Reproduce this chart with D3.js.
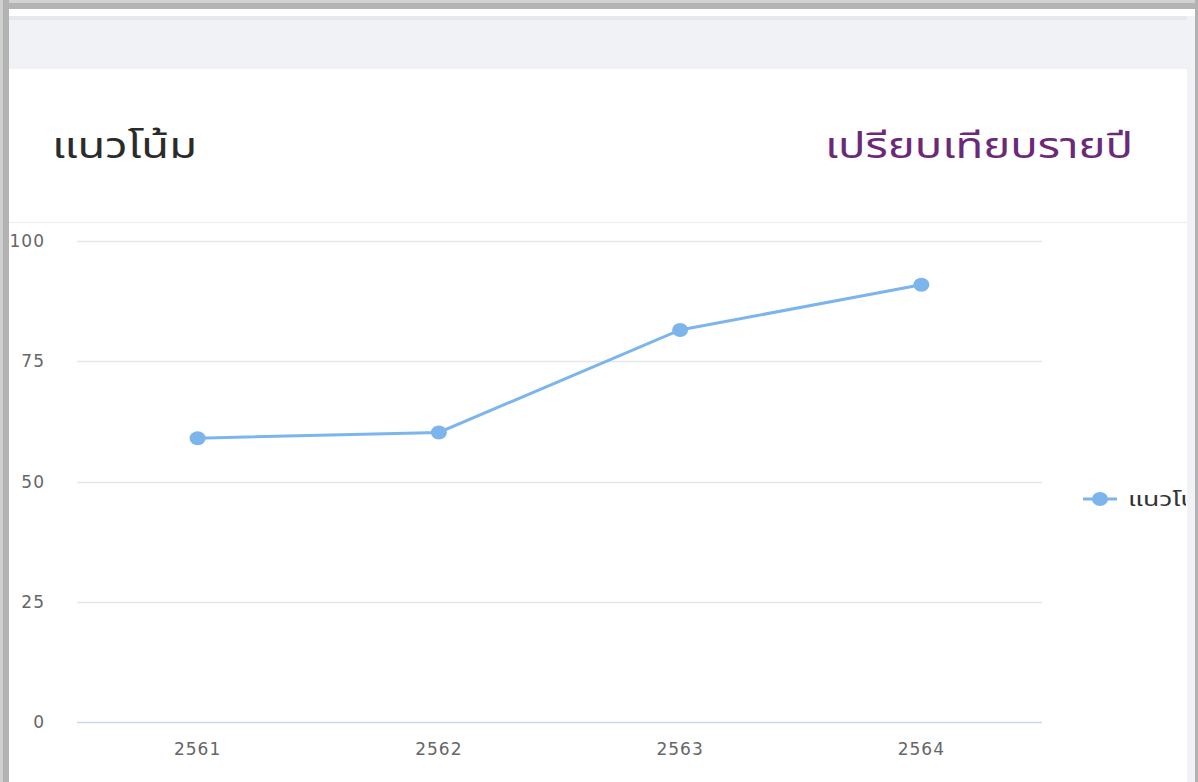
<!DOCTYPE html>
<html>
<head>
<meta charset="utf-8">
<title>แนวโน้ม</title>
<script src="https://d3js.org/d3.v7.min.js"></script>
<style>
  body { margin: 0; background: #fff; }
  svg text { font-family: "Noto Sans", "Noto Sans Thai", Roboto, sans-serif; }
  svg text.num { font-family: "DejaVu Sans", sans-serif; }
</style>
</head>
<body>
<div id="chart"></div>
<script>
  // data
  const years = ["2561", "2562", "2563", "2564"];
  const trendValues = [59, 60.2, 81.5, 90.9];
  const yTicks = [0, 25, 50, 75, 100];
  const seriesName = "แนวโน้ม";
  const leftTitle = "แนวโน้ม";
  const rightTitle = "เปรียบเทียบรายปี";

  const W = 1198, H = 782;
  const svg = d3.select("#chart").append("svg")
    .attr("width", W)
    .attr("height", H);

  // screenshot frame
  svg.append("rect").attr("x", 0).attr("y", 0).attr("width", W).attr("height", H).attr("fill", "#fff");
  svg.append("rect").attr("x", 0).attr("y", 16).attr("width", W).attr("height", 53).attr("fill", "#f0f2f5");
  svg.append("rect").attr("x", 0).attr("y", 16).attr("width", W).attr("height", 4).attr("fill", "#e6e8eb");
  svg.append("rect").attr("x", 1187).attr("y", 16).attr("width", 11).attr("height", H).attr("fill", "#f0f2f5");
  svg.append("rect").attr("x", 0).attr("y", 0).attr("width", W).attr("height", 3).attr("fill", "#d2d2d2");
  svg.append("rect").attr("x", 0).attr("y", 3).attr("width", W).attr("height", 6).attr("fill", "#b4b4b4");
  svg.append("rect").attr("x", 0).attr("y", 0).attr("width", 3).attr("height", H).attr("fill", "#cfcfcf");
  svg.append("rect").attr("x", 3).attr("y", 0).attr("width", 6).attr("height", H).attr("fill", "#b2b2b2");
  svg.append("rect").attr("x", 1195).attr("y", 0).attr("width", 3).attr("height", H).attr("fill", "#b2b2b2");

  // titles
  svg.append("text")
    .attr("x", 52).attr("y", 158)
    .attr("font-size", 36)
    .attr("textLength", 145)
    .attr("lengthAdjust", "spacingAndGlyphs")
    .attr("fill", "#2b2b2b")
    .text(leftTitle);
  svg.append("text")
    .attr("x", 825).attr("y", 158)
    .attr("font-size", 36)
    .attr("textLength", 308)
    .attr("lengthAdjust", "spacingAndGlyphs")
    .attr("fill", "#6a2a78")
    .text(rightTitle);

  svg.append("line")
    .attr("x1", 9).attr("x2", 1187)
    .attr("y1", 222.5).attr("y2", 222.5)
    .attr("stroke", "#ececec");

  // chart area
  const plotLeft = 77, plotRight = 1042, plotTop = 241, plotBottom = 722;
  const x = d3.scaleBand().domain(years).range([plotLeft, plotRight]);
  const y = d3.scaleLinear().domain([0, 100]).range([plotBottom, plotTop]);

  const g = svg.append("g");

  g.selectAll(".grid").data(yTicks).join("line")
    .attr("class", "grid")
    .attr("x1", plotLeft).attr("x2", plotRight)
    .attr("y1", d => Math.round(y(d)) + 0.5)
    .attr("y2", d => Math.round(y(d)) + 0.5)
    .attr("stroke", d => d === 0 ? "#ccd6eb" : "#e6e6e6")
    .attr("stroke-width", 1.5);

  g.selectAll(".ylab").data(yTicks).join("text")
    .attr("class", "ylab num")
    .attr("x", 45)
    .attr("y", d => y(d) + 6)
    .attr("text-anchor", "end")
    .attr("font-size", 17)
    .attr("letter-spacing", 1)
    .attr("fill", "#666")
    .text(d => d);

  g.selectAll(".xlab").data(years).join("text")
    .attr("class", "xlab num")
    .attr("x", d => x(d) + x.bandwidth() / 2)
    .attr("y", 755)
    .attr("text-anchor", "middle")
    .attr("font-size", 17)
    .attr("letter-spacing", 1)
    .attr("fill", "#666")
    .text(d => d);

  const line = d3.line()
    .x((d, i) => x(years[i]) + x.bandwidth() / 2)
    .y(d => y(d));

  g.append("path")
    .datum(trendValues)
    .attr("d", line)
    .attr("fill", "none")
    .attr("stroke", "#7cb5ec")
    .attr("stroke-width", 3);

  g.selectAll(".pt").data(trendValues).join("ellipse")
    .attr("class", "pt")
    .attr("cx", (d, i) => x(years[i]) + x.bandwidth() / 2)
    .attr("cy", d => y(d))
    .attr("rx", 8).attr("ry", 7)
    .attr("fill", "#7cb5ec");

  // legend, cut off by the card edge
  const lg = svg.append("g").attr("transform", "translate(1083,499)");
  lg.append("line").attr("x1", 0).attr("x2", 34).attr("stroke", "#7cb5ec").attr("stroke-width", 3);
  lg.append("ellipse").attr("cx", 17).attr("rx", 8).attr("ry", 7).attr("fill", "#7cb5ec");
  const clip = svg.append("clipPath").attr("id", "lgclip");
  clip.append("rect").attr("x", 0).attr("y", -30).attr("width", 103).attr("height", 60);
  const lgText = lg.append("text")
    .attr("x", 45).attr("y", 7)
    .attr("clip-path", "url(#lgclip)")
    .attr("font-size", 19)
    .attr("fill", "#333")
    .text(seriesName);
  lgText.attr("textLength", lgText.node().getComputedTextLength() * 1.4)
    .attr("lengthAdjust", "spacingAndGlyphs");
</script>
</body>
</html>
